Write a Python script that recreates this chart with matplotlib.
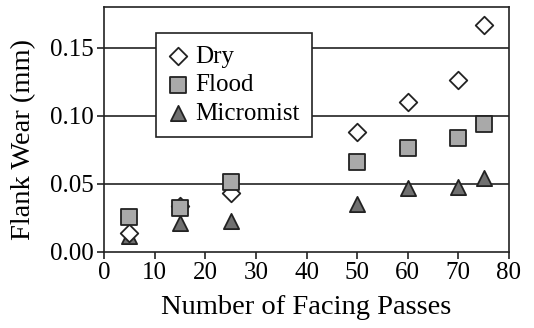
import matplotlib
matplotlib.use("Agg")
import matplotlib.pyplot as plt

# facing passes and flank wear (mm)
passes = [5, 15, 25, 50, 60, 70, 75]
dry = [0.014, 0.034, 0.043, 0.088, 0.110, 0.126, 0.167]
flood = [0.026, 0.032, 0.051, 0.066, 0.076, 0.084, 0.094]
micromist = [0.012, 0.021, 0.023, 0.035, 0.047, 0.048, 0.054]

x_ticks = [0, 10, 20, 30, 40, 50, 60, 70, 80]
y_ticks = [0.00, 0.05, 0.10, 0.15]

plt.rcParams["font.family"] = ["Liberation Serif", "DejaVu Serif"]

fig = plt.figure(figsize=(5.34, 3.28), dpi=100)
ax = fig.add_axes([0.195, 0.232, 0.758, 0.747])

for y in y_ticks[1:]:
    ax.axhline(y, color="#222222", lw=1.2, zorder=1)

edge = "#222222"
ax.scatter(passes, micromist, marker="^", s=120, facecolor="#707070",
           edgecolor=edge, linewidth=1.3, zorder=3, label="Micromist")
ax.scatter(passes, dry, marker="D", s=80, facecolor="white",
           edgecolor=edge, linewidth=1.3, zorder=4, label="Dry")
ax.scatter(passes, flood, marker="s", s=120, facecolor="#a9a9a9",
           edgecolor=edge, linewidth=1.3, zorder=5, label="Flood")

ax.set_xlim(0, 80)
ax.set_ylim(0, 0.18)
ax.set_xticks(x_ticks)
ax.set_yticks(y_ticks)
ax.set_yticklabels([f"{v:.2f}" for v in y_ticks])
ax.tick_params(labelsize=18, direction="out", length=5, width=1.2,
               color="#222222", pad=2.5)
for s in ax.spines.values():
    s.set_linewidth(1.2)
    s.set_color("#222222")

ax.set_xlabel("Number of Facing Passes", fontsize=20.5)
ax.set_ylabel("Flank Wear (mm)", fontsize=20.5)
ax.xaxis.set_label_coords(0.5, -0.175)
ax.yaxis.set_label_coords(-0.168, 0.46)

handles, labels = ax.get_legend_handles_labels()
order = [1, 2, 0]
leg = ax.legend([handles[i] for i in order], [labels[i] for i in order],
                loc="upper left", bbox_to_anchor=(0.128, 0.894), fontsize=18,
                frameon=True, fancybox=False, framealpha=1, edgecolor="#222222",
                handletextpad=0.26, borderpad=0.5, labelspacing=0.24,
                handlelength=0.8, borderaxespad=0)
leg.get_frame().set_linewidth(1.2)
leg.set_zorder(6)

fig.savefig("out.png", dpi=100)
